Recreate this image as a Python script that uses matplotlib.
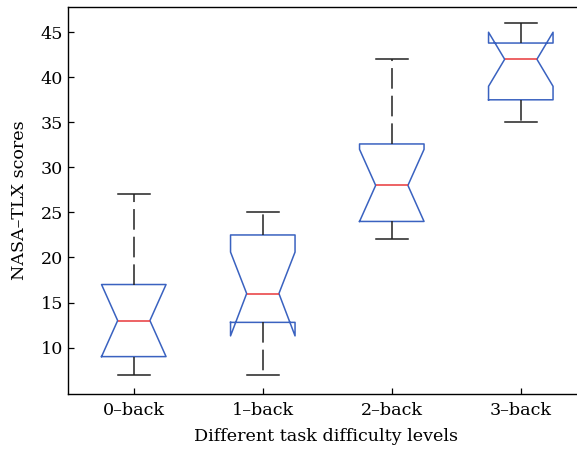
import matplotlib.pyplot as plt

# NASA-TLX scores per n-back level (box statistics)
labels = ['0\u2013back', '1\u2013back', '2\u2013back', '3\u2013back']
whislo = [7, 7, 22, 35]
q1 = [9, 12.8, 24, 37.5]
med = [13, 16, 28, 42]
q3 = [17, 22.5, 32.6, 43.8]
whishi = [27, 25, 42, 46]
cilo = [9, 11.3, 24, 39]
cihi = [17, 20.6, 32, 45]

stats = []
for i in range(len(labels)):
    stats.append(dict(label=labels[i], whislo=whislo[i], q1=q1[i], med=med[i],
                      q3=q3[i], whishi=whishi[i], cilo=cilo[i], cihi=cihi[i],
                      fliers=[]))

plt.rcParams['font.family'] = 'DejaVu Serif'
plt.rcParams['font.size'] = 12.6

fig = plt.figure(figsize=(5.77, 4.51), dpi=100)
# axes run past the right edge of the figure, so the right frame is cut off
ax = fig.add_axes([68 / 577, 57 / 451, 516 / 577, 387 / 451])

ax.bxp(stats, positions=[1, 2, 3, 4], widths=0.5, capwidths=0.245,
       shownotches=True, showfliers=False,
       boxprops=dict(color='#3a62c0', linewidth=1.1),
       medianprops=dict(color='#e8383a', linewidth=1.1),
       whiskerprops=dict(color='#222222', linewidth=1.1, linestyle=(0, (13.5, 4.6))),
       capprops=dict(color='#222222', linewidth=1.1))

ax.set_xlim(0.49, 4.49)
ax.set_ylim(4.85, 47.8)
ax.set_yticks([10, 15, 20, 25, 30, 35, 40, 45])
ax.tick_params(direction='in', length=4, width=0.9)
ax.tick_params(axis='x', pad=6)
for s in ax.spines.values():
    s.set_linewidth(1.0)
ax.spines['right'].set_visible(False)
ax.set_xlabel('Different task difficulty levels', labelpad=6)
ax.set_ylabel('NASA\u2013TLX scores', labelpad=9)

fig.savefig('out.png', dpi=100)
